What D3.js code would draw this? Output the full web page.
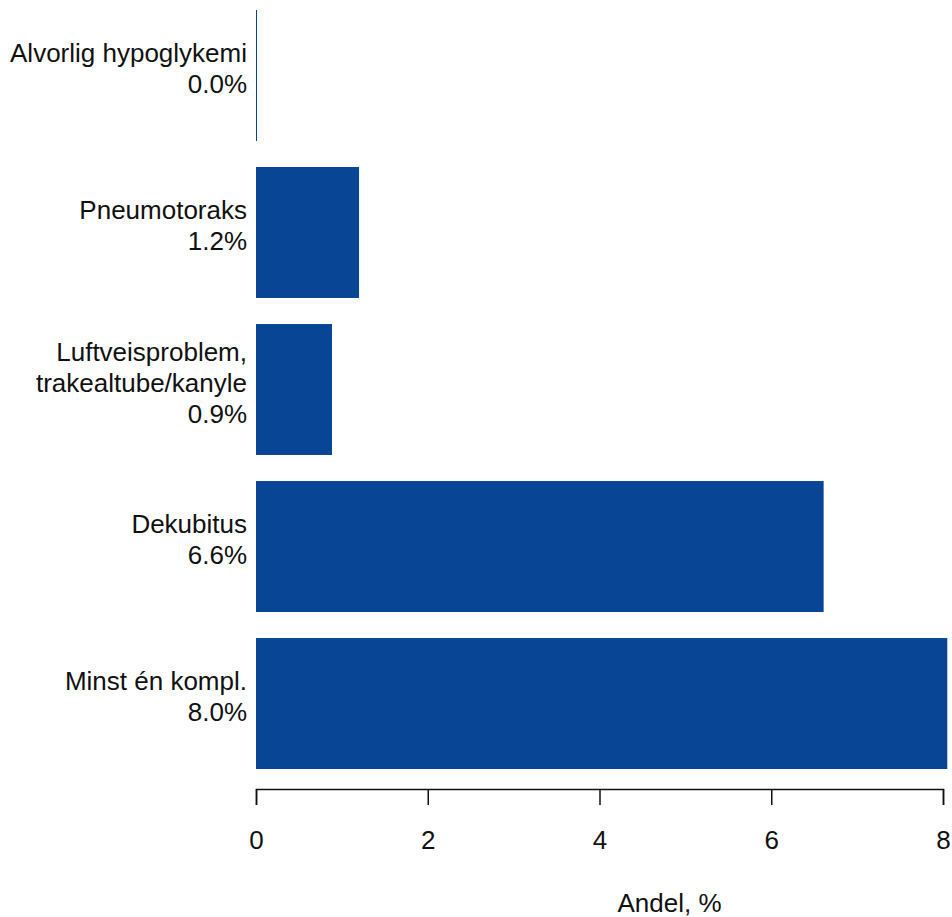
<!DOCTYPE html>
<html>
<head>
<meta charset="utf-8">
<script src="https://d3js.org/d3.v7.min.js"></script>
<style>
body { margin: 0; background: white; }
text { font-family: "Liberation Sans", Arial, sans-serif; fill: #111; }
</style>
</head>
<body>
<script>
// data
var categories = [
	["Alvorlig hypoglykemi"],
	["Pneumotoraks"],
	["Luftveisproblem,", "trakealtube/kanyle"],
	["Dekubitus"],
	["Minst én kompl."]
];
var values = [0.0, 1.2, 0.885, 6.61, 8.05];
var valueLabels = ["0.0%", "1.2%", "0.9%", "6.6%", "8.0%"];
var ticks = [0, 2, 4, 6, 8];

var width = 952, height = 917, barColour = "#084594";

var svg = d3.select("body").append("svg")
	.attr("width", width)
	.attr("height", height);

/* scales */
var x = d3.scaleLinear().domain([0, 8]).range([256, 943]);
var y = d3.scaleBand()
	.domain(d3.range(values.length))
	.range([10, 769])
	.paddingInner(0.166)
	.paddingOuter(0);

/* bars (zero bar drawn as a thin line) */
svg.selectAll("rect.bar")
	.data(values)
	.enter().append("rect")
	.attr("class", "bar")
	.attr("x", x(0))
	.attr("y", function(d, i) { return y(i); })
	.attr("width", function(d) { return Math.max(x(d) - x(0), 1); })
	.attr("height", y.bandwidth())
	.attr("fill", barColour);

/* category labels with value on last line */
var fs = 26, lh = 31;
var labels = svg.selectAll("text.cat")
	.data(categories)
	.enter().append("text")
	.attr("class", "cat")
	.attr("text-anchor", "end")
	.style("font-size", fs + "px");

labels.each(function(lines, i) {
	var all = lines.concat([valueLabels[i]]);
	var cy = y(i) + y.bandwidth() / 2 - 7;
	var top = cy - (all.length - 1) * lh / 2;
	d3.select(this).selectAll("tspan")
		.data(all)
		.enter().append("tspan")
		.attr("x", 247)
		.attr("y", function(d, j) { return top + j * lh; })
		.attr("dy", "0.35em")
		.text(function(d) { return d; });
});

/* x axis */
var axis = svg.append("g")
	.attr("transform", "translate(0,789)")
	.call(d3.axisBottom(x).tickValues(ticks).tickFormat(d3.format("d")).tickSize(16).tickSizeOuter(16).tickPadding(26));
axis.select(".domain").attr("stroke", "#111").attr("stroke-width", 1.5);
axis.selectAll(".tick line").attr("stroke", "#111").attr("stroke-width", 1.5);
axis.selectAll(".tick text")
	.style("font-size", fs + "px")
	.attr("font-family", null)
	.attr("fill", "#111");

svg.append("text")
	.attr("x", (x(0) + x(8)) / 2 + 70)
	.attr("y", 912)
	.attr("text-anchor", "middle")
	.style("font-size", fs + "px")
	.text("Andel, %");
</script>
</body>
</html>
